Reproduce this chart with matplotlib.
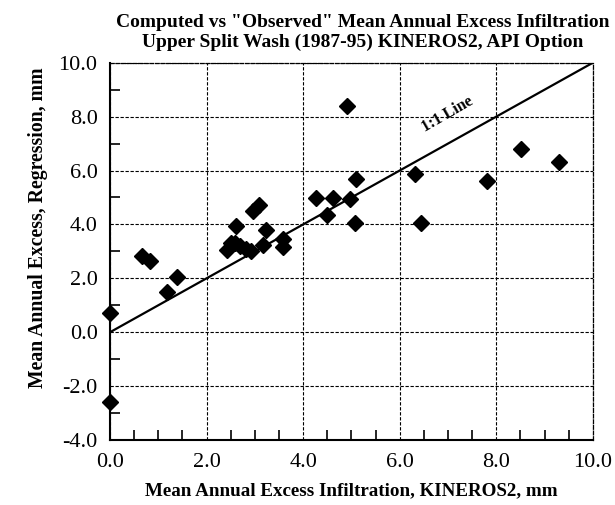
import numpy as np
import matplotlib
matplotlib.use("Agg")
import matplotlib.pyplot as plt
from matplotlib.ticker import MultipleLocator, FormatStrFormatter

# valores
kineros = [0.0, 0.0, 0.66, 0.83, 1.19, 1.38, 2.42, 2.50, 2.58, 2.61, 2.70,
           2.82, 2.93, 2.97, 3.09, 3.17, 3.24, 3.58, 3.58, 4.27, 4.50, 4.61,
           4.90, 4.98, 5.07, 5.09, 6.31, 6.44, 7.81, 8.52, 9.30]
regressao = [0.72, -2.59, 2.81, 2.63, 1.50, 2.05, 3.05, 3.30, 3.30, 3.95, 3.20,
             3.10, 3.00, 4.50, 4.73, 3.25, 3.78, 3.15, 3.45, 4.98, 4.36, 4.98,
             8.41, 4.94, 4.05, 5.68, 5.88, 4.07, 5.62, 6.80, 6.33]
linha11 = [0.0, 10.0]

plt.rcParams['font.family'] = ['Liberation Serif', 'DejaVu Serif']

fig = plt.figure(figsize=(6.15, 5.05), dpi=100)
ax = fig.add_axes([0.1789, 0.1287, 0.7851, 0.7471])

ax.plot(linha11, linha11, color='black', lw=1.6, zorder=3)
ax.plot(kineros, regressao, 'D', color='black', ms=8.5, zorder=4, clip_on=False)

ax.text(6.98, 8.1, "1:1 Line", rotation=30, ha='center', va='center',
        fontsize=11.5, fontweight='bold')

ax.set_xlim(0, 10)
ax.set_ylim(-4, 10)
ax.xaxis.set_major_locator(MultipleLocator(2))
ax.xaxis.set_minor_locator(MultipleLocator(0.5))
ax.yaxis.set_major_locator(MultipleLocator(2))
ax.yaxis.set_minor_locator(MultipleLocator(1))
ax.xaxis.set_major_formatter(FormatStrFormatter('%.1f'))
ax.yaxis.set_major_formatter(FormatStrFormatter('%.1f'))
ax.tick_params(which='both', direction='in', color='black', labelsize=16)
ax.tick_params(which='major', length=0, pad=9)
ax.tick_params(which='minor', length=7, width=1.2)

ax.grid(True, which='major', color='black', lw=0.8, linestyle=(0, (3, 1.5)))

for lado in ['left', 'bottom']:
    ax.spines[lado].set_linewidth(1.5)
for lado in ['top', 'right']:
    ax.spines[lado].set_linewidth(0.9)
    ax.spines[lado].set_linestyle((0, (3, 1.5)))

ax.set_xlabel("Mean Annual Excess Infiltration, KINEROS2, mm",
              fontsize=13.7, fontweight='bold')
ax.xaxis.set_label_coords(0.5, -0.112)
ax.set_ylabel("Mean Annual Excess, Regression, mm",
              fontsize=14.2, fontweight='bold')
ax.yaxis.set_label_coords(-0.128, 0.562)

fig.text(0.59, 0.973, 'Computed vs "Observed" Mean Annual Excess Infiltration\n'
         'Upper Split Wash (1987-95) KINEROS2, API Option',
         ha='center', va='top', fontsize=14, fontweight='bold', linespacing=1.2)

fig.savefig("out.png", dpi=100)
